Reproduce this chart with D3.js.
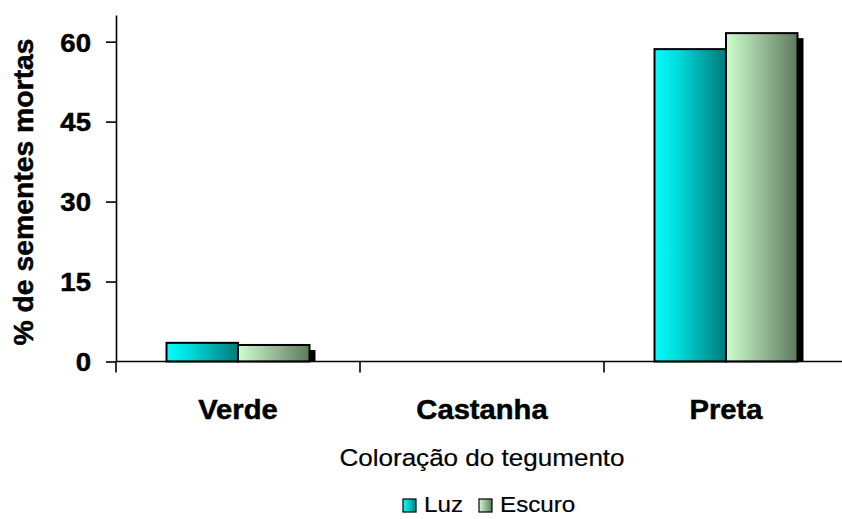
<!DOCTYPE html>
<html>
<head>
<meta charset="utf-8">
<script src="https://cdn.jsdelivr.net/npm/d3@7"></script>
<style>
  html, body { margin: 0; padding: 0; background: #fff; }
  svg { display: block; font-family: Arial, "Liberation Sans", sans-serif; }
</style>
</head>
<body>
<svg id="chart" width="842" height="519"></svg>
<script>
// Mortality of seeds by seed-coat colour, under light and dark conditions
const categories = ["Verde", "Castanha", "Preta"];
const seriesNames = ["Luz", "Escuro"];
const luzValues = [3.5, 0, 58.6];
const escuroValues = [3.1, 0, 61.6];
const yTicks = [0, 15, 30, 45, 60];
const yMax = 65;
const yTitle = "% de sementes mortas";
const xTitle = "Coloração do tegumento";

const seriesValues = [luzValues, escuroValues];
const rows = categories.map((c, i) => ({
  category: c,
  values: seriesNames.map((s, j) => ({ series: s, value: seriesValues[j][i] }))
}));

const svg = d3.select("#chart");
const fontFamily = 'Arial, "Liberation Sans", sans-serif';

const plotLeft = 116, axisY = 361.5, plotTop = 15;
const bandW = 244;

const x = d3.scaleBand().domain(categories).range([plotLeft, plotLeft + bandW * categories.length]).padding(0);
const xSub = d3.scaleBand().domain(seriesNames).range([bandW * 0.207, bandW * 0.793]).padding(0);
const y = d3.scaleLinear().domain([0, yMax]).range([axisY, plotTop]);

// gradients for the two series
const defs = svg.append("defs");
const gradStops = {
  Luz: ["#00ffff", "#00d8d8", "#007a7a"],
  Escuro: ["#ccffcc", "#a8d0a8", "#5e7a5e"]
};
seriesNames.forEach((s, i) => {
  const g = defs.append("linearGradient").attr("id", "grad" + i)
    .attr("x1", "0%").attr("x2", "100%").attr("y1", "0%").attr("y2", "0%");
  g.append("stop").attr("offset", "0%").attr("stop-color", gradStops[s][0]);
  g.append("stop").attr("offset", "35%").attr("stop-color", gradStops[s][1]);
  g.append("stop").attr("offset", "100%").attr("stop-color", gradStops[s][2]);
});

// stretch text horizontally to the wide face of the original rendering
function widen(sel, k) {
  sel.each(function () {
    const len = this.getComputedTextLength();
    d3.select(this).attr("textLength", len * k).attr("lengthAdjust", "spacingAndGlyphs");
  });
}

// heavy bold face
function heavy(sel, size) {
  sel.attr("font-family", fontFamily)
    .attr("font-size", size)
    .attr("font-weight", "bold")
    .attr("fill", "#000")
    .attr("stroke", "#000")
    .attr("stroke-width", 0.5);
}

// bars with drop shadows
const groups = svg.append("g").selectAll("g.cat").data(rows).join("g")
  .attr("class", "cat")
  .attr("transform", d => `translate(${x(d.category)},0)`);

groups.selectAll("rect.shadow").data(d => d.values.filter(v => v.value > 0)).join("rect")
  .attr("class", "shadow")
  .attr("x", d => xSub(d.series) + 6)
  .attr("y", d => y(d.value) + 5)
  .attr("width", xSub.bandwidth())
  .attr("height", d => Math.max(0, axisY - y(d.value) - 5))
  .attr("fill", "#000");

groups.selectAll("rect.bar").data(d => d.values.filter(v => v.value > 0)).join("rect")
  .attr("class", "bar")
  .attr("x", d => xSub(d.series))
  .attr("y", d => y(d.value))
  .attr("width", xSub.bandwidth())
  .attr("height", d => axisY - y(d.value))
  .attr("fill", d => `url(#grad${seriesNames.indexOf(d.series)})`)
  .attr("stroke", "#000")
  .attr("stroke-width", 2);

// y axis
const yAxis = svg.append("g")
  .attr("transform", `translate(${plotLeft},0)`)
  .call(d3.axisLeft(y).tickValues(yTicks).tickSize(10).tickSizeOuter(0).tickPadding(15));
yAxis.select(".domain").attr("stroke", "#000").attr("stroke-width", 1.6);
yAxis.selectAll(".tick line").attr("stroke", "#000").attr("stroke-width", 1.6);
yAxis.selectAll(".tick text")
  .call(heavy, 26)
  .attr("dy", "0.36em")
  .call(widen, 1.06);

// x axis line with ticks at category boundaries
const xAxis = svg.append("g").attr("transform", `translate(0,${axisY})`);
xAxis.append("line")
  .attr("x1", plotLeft).attr("x2", 842)
  .attr("stroke", "#000").attr("stroke-width", 1.6);
xAxis.selectAll("line.tick").data(categories).join("line")
  .attr("class", "tick")
  .attr("x1", d => x(d)).attr("x2", d => x(d))
  .attr("y1", 0).attr("y2", 11)
  .attr("stroke", "#000").attr("stroke-width", 1.6);
xAxis.selectAll("text").data(categories).join("text")
  .attr("x", d => x(d) + x.bandwidth() / 2)
  .attr("y", 57.5)
  .attr("text-anchor", "middle")
  .call(heavy, 27)
  .text(d => d)
  .call(widen, 1.08);

// axis titles
svg.append("text")
  .attr("transform", "translate(33,192) rotate(-90)")
  .attr("text-anchor", "middle")
  .call(heavy, 27)
  .text(yTitle)
  .call(widen, 1.05);

svg.append("text")
  .attr("x", 482).attr("y", 466)
  .attr("text-anchor", "middle")
  .attr("font-size", 24)
  .attr("stroke", "#000").attr("stroke-width", 0.2)
  .text(xTitle)
  .call(widen, 1.085);

// legend
const legendX = [403, 479];
const legend = svg.append("g").selectAll("g").data(seriesNames).join("g")
  .attr("transform", (d, i) => `translate(${legendX[i]},499)`);
legend.append("rect")
  .attr("width", 13).attr("height", 13)
  .attr("fill", (d, i) => `url(#grad${i})`)
  .attr("stroke", "#000").attr("stroke-width", 1.2);
legend.append("text")
  .attr("x", 21).attr("y", 13)
  .attr("font-size", 22)
  .attr("stroke", "#000").attr("stroke-width", 0.2)
  .text(d => d)
  .call(widen, 1.1);
</script>
</body>
</html>
